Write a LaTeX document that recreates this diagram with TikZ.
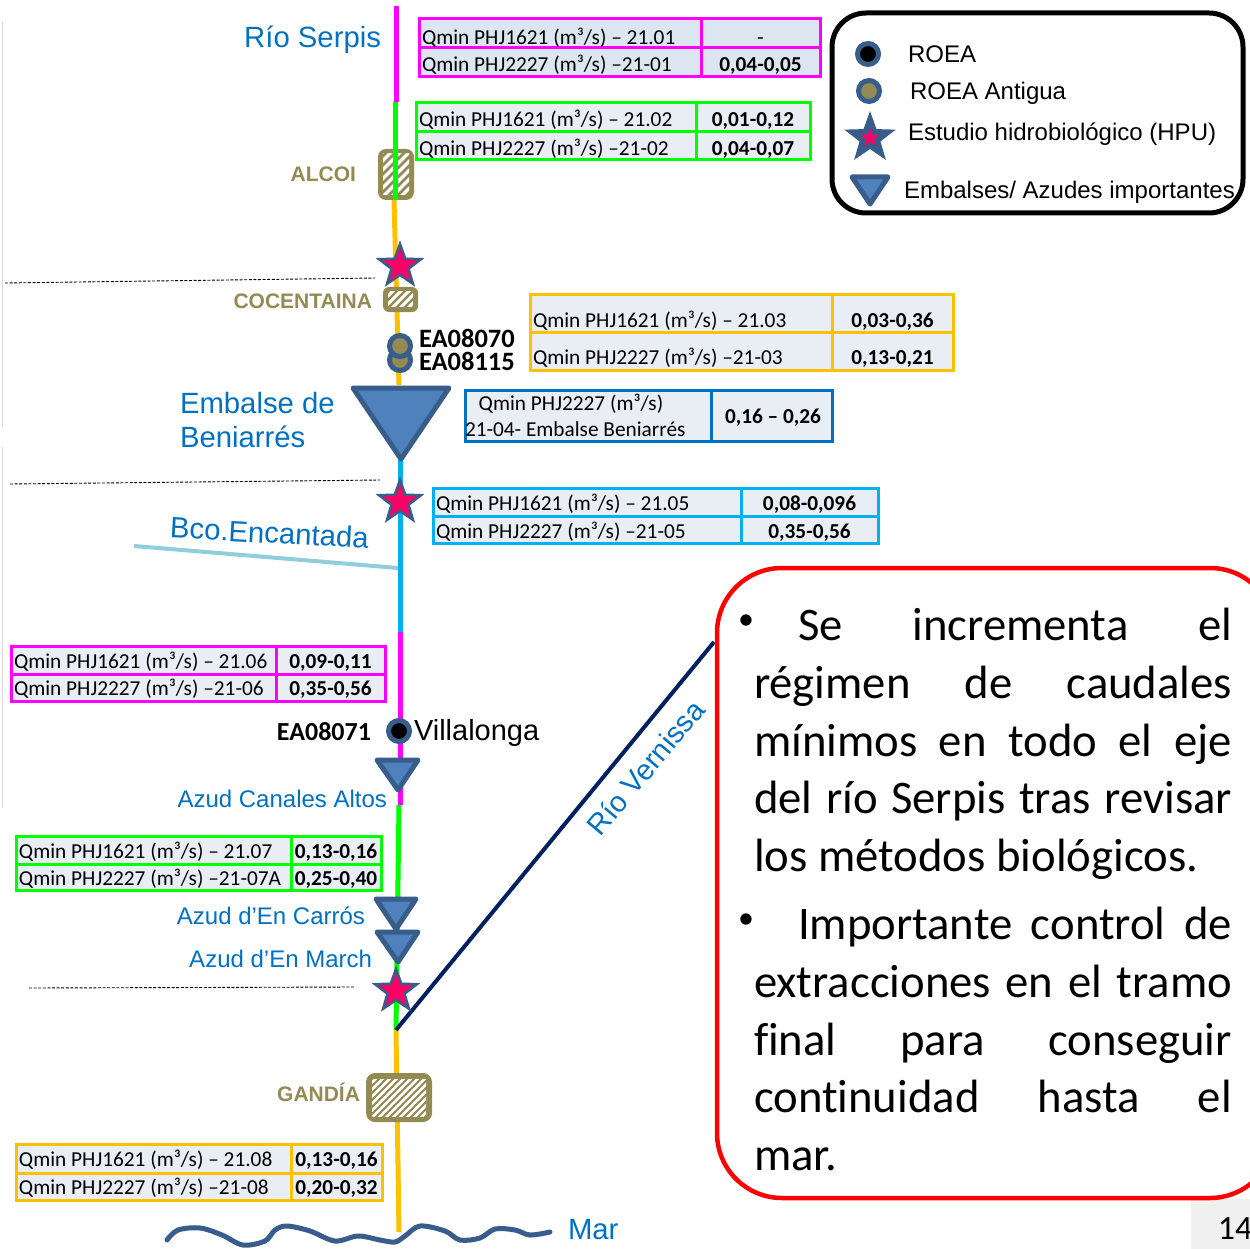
\documentclass[tikz,border=0pt]{standalone}
\usepackage{fontspec}
\usetikzlibrary{shapes.geometric,calc}
\newfontfamily\arialf{Liberation Sans}
\newfontfamily\calf{Carlito}
\definecolor{rblue}{HTML}{0070C0}
\definecolor{rcyan}{HTML}{00B0F0}
\definecolor{rmag}{HTML}{FF00FF}
\definecolor{rgreen}{HTML}{00FF00}
\definecolor{rorange}{HTML}{FFC000}
\definecolor{edge}{HTML}{385D8A}
\definecolor{tri}{HTML}{4F81BD}
\definecolor{brownc}{HTML}{948A54}
\definecolor{starpink}{HTML}{FF0066}
\definecolor{cella}{HTML}{DCE6F1}
\definecolor{cellb}{HTML}{E9EDF4}
\definecolor{navyr}{HTML}{002060}
\definecolor{bco}{HTML}{92CDDC}
\newcommand{\fs}[1]{\fontsize{#1}{#1}\selectfont}
\newcommand{\ms}{m³\kern0pt/s}
\tikzset{
  lbl/.style={inner sep=0pt,outer sep=0pt},
  river/.style={line width=5pt},
  tribox/.style={draw=edge,fill=tri,line width=5pt,line join=round},
  hpu/.style={star,star points=5,star point ratio=2.45,draw=edge,fill=starpink,line width=2.5pt,minimum size=#1,inner sep=0pt},
  roea/.style={circle,draw=edge,line width=5pt,minimum size=21pt,inner sep=0pt},
  dashline/.style={line width=0.9pt,dash pattern=on 3pt off 1.6pt},
  tabtext/.style={lbl,anchor=mid west,font=\calf\fs{21.3},yshift=-5pt},
  tabval/.style={lbl,anchor=mid,font=\calf\bfseries\fs{21.3},yshift=-5pt},
  serpis/.style={lbl,font=\arialf\fs{29.3},yshift=-8pt,text=rblue},
  azud/.style={lbl,anchor=mid east,font=\arialf\fs{24},yshift=-6.5pt,text=rblue},
  town/.style={lbl,anchor=mid east,font=\arialf\bfseries\fs{21},yshift=-5pt,text=brownc},
  legend/.style={lbl,anchor=mid west,font=\arialf\fs{24},yshift=-6.5pt},
  gauge/.style={lbl,font=\calf\bfseries\fs{26.5},yshift=-6.5pt},
  body/.style={lbl,anchor=mid west,font=\calf\fs{46.7},yshift=-12pt},
}
\newcommand{\tabgeom}[8]{\def\tx{#1}\def\ts{#2}\def\te{#3}\def\ta{#4}\def\tm{#5}\def\tb{#6}\def\tya{#7}\def\tyb{#8}}
\newcommand{\qtab}[6]{%
  \fill[\tabfill] (\tx,\ta) rectangle (\te,\tb);
  \draw[#2,line width=3pt] (\tx,\ta) rectangle (\te,\tb) (\tx,\tm) -- (\te,\tm) (\ts,\ta) -- (\ts,\tb);
  \pgfmathsetmacro\tc{(\ts+\te)/2}
  \node[tabtext] (#1a) at (\tx+3,\tya) {#3};
  \node[tabval] (#1b) at (\tc,\tya) {#4};
  \node[tabtext] (#1c) at (\tx+3,\tyb) {#5};
  \node[tabval] (#1d) at (\tc,\tyb) {#6};
}
\newcommand{\hatchbox}[7]{%
  \fill[brownc,rounded corners=#5pt] (#1,#2) rectangle (#3,#4);
  \begin{scope}
    \clip (#1+#6,#2+#6) rectangle (#3-#6,#4-#6);
    \begin{scope}[shift={($(#1,#2)!0.5!(#3,#4)$)}]
      \foreach \k in {-15,...,15}{
        \draw[white,line width=#7*0.36pt] (\k*#7-60,60) -- (\k*#7+60,-60);
      }
    \end{scope}
  \end{scope}
}
\newcommand{\jl}[3]{\node[body] (#1) at (754,#2) {\hbox to 478pt{#3}};}
\begin{document}
\begin{tikzpicture}[x=1pt,y=-1pt]
\useasboundingbox (0,0) rectangle (1250,1249);
\clip (0,0) rectangle (1250,1249);
\fill[white] (0,0) rectangle (1250,1249);
\draw[black!15,line width=1pt] (2,22) -- (2,427) (2,447) -- (2,808);
\fill[black!6] (1191,1199) rectangle (1250,1249);
\node[lbl,anchor=center,font=\calf\fs{34}] (pageno) at (1235,1229) {14};
\coordinate (r0) at (396,6);
\coordinate (r1) at (396,102);
\coordinate (r1b) at (395,102);
\coordinate (r2) at (395,200);
\coordinate (r2b) at (394,200);
\coordinate (r3) at (399,385);
\coordinate (r4) at (400,460);
\coordinate (r5) at (400,632);
\coordinate (r6) at (400,805);
\coordinate (r6b) at (399,805);
\coordinate (r7) at (396,1030);
\coordinate (r8) at (399,1232);
\coordinate (bco0) at (134,546);
\coordinate (bco1) at (398,568);
\coordinate (ver1) at (714,642);
\hatchbox{378}{149}{414}{200}{8}{5}{9}
\draw[rorange,river] (r2b) -- (r3);
\draw[rcyan,river] (r4) -- (r5);
\draw[rmag,river] (r0) -- (r1);
\draw[rgreen,river] (r1b) -- (r2);
\draw[rmag,river] (r5) -- (r6);
\draw[rgreen,river] (r6b) -- (r7);
\draw[rorange,river] (r7) -- (r8);
\draw[bco,line width=4pt] (bco0) -- (bco1);
\draw[navyr,line width=4pt] (r7) -- (ver1);
\hatchbox{383}{287}{418}{312}{6}{5}{8}
\hatchbox{366}{1073}{432}{1122}{9}{6}{7}
\draw[edge,line width=5pt,line cap=round] plot[smooth,tension=0.55] coordinates {(167,1240) (178,1230) (200,1228) (222,1235) (243,1245) (265,1241) (275,1230) (287,1226) (310,1231) (335,1241) (358,1236) (380,1240) (395,1242) (405,1236) (420,1226) (445,1231) (460,1240) (480,1238) (495,1229) (515,1230) (530,1235) (550,1232)};
\coordinate (d1a) at (5,283); \coordinate (d1b) at (375,278);
\coordinate (d2a) at (10,484); \coordinate (d2b) at (380,480);
\coordinate (d3a) at (29,988); \coordinate (d3b) at (355,987);
\draw[dashline] (d1a) -- (d1b);
\draw[dashline] (d2a) -- (d2b);
\draw[dashline] (d3a) -- (d3b);
\node[hpu=44pt] (s1) at (400,266) {};
\node[hpu=44pt] (s2) at (400,502) {};
\node[hpu=44pt] (s3) at (396,991) {};
\node[roea,fill=brownc] (g2) at (400,360) {};
\node[roea,fill=brownc] (g1) at (400,346) {};
\node[roea,fill=black] (g3) at (399,731) {};
\draw[tribox] (353,388) -- (449,388) -- (401,459) -- cycle;
\draw[tribox] (377,760) -- (418,760) -- (398,790) -- cycle;
\draw[tribox] (376,899) -- (416,899) -- (396,929) -- cycle;
\draw[tribox] (377,932) -- (418,932) -- (398,962) -- cycle;
\node[serpis,anchor=mid east] (rs) at (381,37) {Río Serpis};
\node[town] (alcoi) at (356,174) {ALCOI};
\node[town] (coc) at (372,301) {COCENTAINA};
\node[town] (gan) at (360,1094) {GANDÍA};
\node[serpis,anchor=mid west] (emb1) at (180,403) {Embalse de};
\node[serpis,anchor=mid west] (emb2) at (180,437) {Beniarrés};
\node[lbl,font=\arialf\fs{29.3},text=rblue,anchor=mid,rotate=-3] (bcoe) at (269,541) {Bco.Encantada};
\node[gauge,anchor=mid west] (ea1) at (419,339) {EA08070};
\node[gauge,anchor=mid west] (ea2) at (419,362) {EA08115};
\node[gauge,anchor=mid east,font=\calf\bfseries\fs{26}] (ea3) at (371,732) {EA08071};
\node[lbl,anchor=mid west,font=\arialf\fs{29},yshift=-7.5pt] (vill) at (414,731) {Villalonga};
\node[azud] (az1) at (387,799) {Azud Canales Altos};
\node[azud] (az2) at (365,916) {Azud d’En Carrós};
\node[azud] (az3) at (372,959) {Azud d’En March};
\node[lbl,anchor=mid,rotate=50,font=\arialf\fs{29},text=rblue] (ver) at (652,773) {Río Vernissa};
\node[serpis,anchor=mid west] (mar) at (568,1229) {Mar};
\def\tabfill{cella}
\tabgeom{419}{701}{820}{19}{48}{77}{37}{64}
\qtab{ta}{rmag}{Qmin PHJ1621 (\ms) – 21.01}{\mdseries -}{Qmin PHJ2227 (\ms) –21-01}{0,04-0,05}
\def\tabfill{cellb}
\tabgeom{416}{696}{810}{103}{132}{160}{119}{148}
\qtab{tb}{rgreen}{Qmin PHJ1621 (\ms) – 21.02}{0,01-0,12}{Qmin PHJ2227 (\ms) –21-02}{0,04-0,07}
\tabgeom{530}{832}{953}{295}{332}{370}{320}{357}
\qtab{tc}{rorange}{Qmin PHJ1621 (\ms) – 21.03}{0,03-0,36}{Qmin PHJ2227 (\ms) –21-03}{0,13-0,21}
\tabgeom{433}{741}{878}{488}{516}{543}{503}{531}
\qtab{te}{rcyan}{Qmin PHJ1621 (\ms) – 21.05}{0,08-0,096}{Qmin PHJ2227 (\ms) –21-05}{0,35-0,56}
\tabgeom{11}{276}{385}{646}{674}{701}{661}{688}
\qtab{tf}{rmag}{Qmin PHJ1621 (\ms) – 21.06}{0,09-0,11}{Qmin PHJ2227 (\ms) –21-06}{0,35-0,56}
\tabgeom{16}{291}{381}{836}{864}{890}{851}{878}
\qtab{tg}{rgreen}{Qmin PHJ1621 (\ms) – 21.07}{0,13-0,16}{Qmin PHJ2227 (\ms) –21-07A}{0,25-0,40}
\tabgeom{16}{291}{382}{1144}{1173}{1200}{1159}{1187}
\qtab{th}{rorange}{Qmin PHJ1621 (\ms) – 21.08}{0,13-0,16}{Qmin PHJ2227 (\ms) –21-08}{0,20-0,32}
\fill[cellb] (465,390) rectangle (832,441);
\draw[rblue,line width=3pt] (465,390) rectangle (832,441) (711,390) -- (711,441);
\node[tabtext,anchor=mid] (td1) at (571,403) {Qmin PHJ2227 (\ms)};
\node[tabtext] (td2) at (465,429) {21-04- Embalse Beniarrés};
\node[tabval] (td3) at (773,416) {0,16 – 0,26};
\draw[black,line width=5pt,rounded corners=34pt] (832,13) rectangle (1243,213);
\node[roea,fill=black] (lg1) at (868,54) {};
\node[roea,fill=brownc] (lg2) at (869,91) {};
\node[star,star points=5,star point ratio=2.45,fill=edge,minimum size=54pt,inner sep=0pt] (lg3) at (870,138) {};
\node[star,star points=5,star point ratio=2.45,fill=starpink,minimum size=20pt,inner sep=0pt] (lg3b) at (870,138) {};
\draw[tribox] (852,177) -- (888,177) -- (870,204) -- cycle;
\node[legend] (lt1) at (908,54) {ROEA};
\node[legend] (lt2) at (910,91) {ROEA Antigua};
\node[legend] (lt3) at (908,132) {Estudio hidrobiológico (HPU)};
\node[legend] (lt4) at (904,190) {Embalses/ Azudes importantes};
\draw[red,line width=4.5pt,rounded corners=65pt] (717,568) rectangle (1275,1198);
\node[lbl,anchor=center,font=\calf\fs{32}] (b1) at (746,622) {•};
\node[lbl,anchor=center,font=\calf\fs{32}] (b2) at (746,921) {•};
\node[body] (l1) at (798,626) {\hbox to 434pt{Se\hfill incrementa\hfill el}};
\jl{l2}{684}{régimen\hfill de\hfill caudales}
\jl{l3}{742}{mínimos\hfill en\hfill todo\hfill el\hfill eje}
\jl{l4}{799}{del\hfill río\hfill Serpis\hfill tras\hfill revisar}
\node[body] (l5) at (754,857) {los métodos biológicos.};
\node[body] (l6) at (798,925) {\hbox to 434pt{Importante\hfill control\hfill de}};
\jl{l7}{983}{extracciones\hfill en\hfill el\hfill tramo}
\jl{l8}{1041}{f\kern0pt inal\hfill para\hfill conseguir}
\jl{l9}{1098}{cont\kern0pt inuidad\hfill hasta\hfill el}
\node[body] (l10) at (754,1156) {mar.};
\end{tikzpicture}
\end{document}
